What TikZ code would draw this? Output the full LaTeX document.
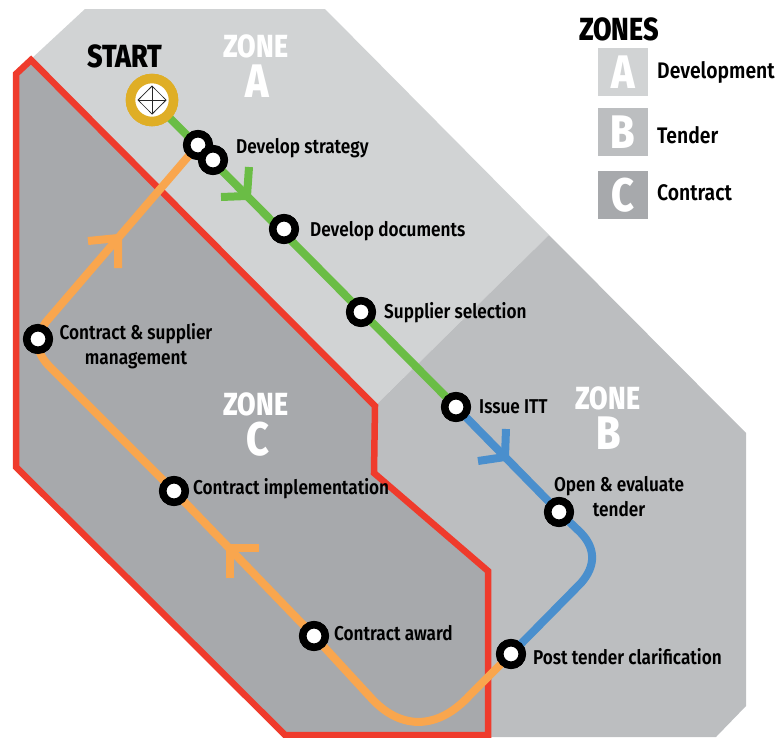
\documentclass[tikz,border=0pt]{standalone}
\usepackage{fontspec}
\setmainfont{Fira Sans}
\newfontfamily\lblfont{Fira Sans SemiBold}[FakeStretch=0.86]
\newfontfamily\headfont{Fira Sans}[FakeStretch=0.84,BoldFont=Fira Sans ExtraBold]
\definecolor{zonea}{HTML}{D1D3D4}
\definecolor{zoneb}{HTML}{BCBEC0}
\definecolor{zonec}{HTML}{A7A9AC}
\definecolor{redline}{HTML}{EF3B2C}
\definecolor{greenline}{HTML}{6ABD45}
\definecolor{blueline}{HTML}{4A8FCD}
\definecolor{orangeline}{HTML}{F9A64E}
\definecolor{goldring}{HTML}{DFAE26}
\tikzset{
  stop/.style={circle,draw=black,line width=7.5pt,fill=white,minimum size=22.5pt,inner sep=0pt},
  startstop/.style={circle,draw=goldring,line width=9.5pt,fill=white,minimum size=43pt,inner sep=0pt},
  lbl/.style={font=\lblfont\fontsize{20}{25}\selectfont,text=black,inner sep=0pt,align=center},
  keylbl/.style={font=\lblfont\fontsize{22.5}{25}\selectfont,text=black,inner sep=0pt},
  zonetxt/.style={font=\headfont\bfseries\fontsize{32}{32}\selectfont,text=white,inner sep=0pt},
  zoneltr/.style={font=\headfont\bfseries\fontsize{47}{47}\selectfont,text=white,inner sep=0pt},
  headtxt/.style={font=\headfont\bfseries\fontsize{32}{32}\selectfont,text=black,inner sep=0pt},
  route/.style={line width=8pt,line join=round},
  barb/.style={line width=8pt,line join=miter},
  swatch/.style={minimum width=50pt,minimum height=48pt,inner sep=0pt},
  swatchtxt/.style={font=\headfont\bfseries\fontsize{47}{47}\selectfont,text=white,inner sep=0pt},
}
\begin{document}
\begin{tikzpicture}[x=1pt,y=-1pt]
\useasboundingbox (0,0) rectangle (782,737);
% zones
\fill[zonea] (30,60) -- (85,9) -- (325,9) -- (549,235) -- (376,405) -- cycle;
\fill[zoneb] (549,235) -- (746,433) -- (746,706) -- (716,737) -- (488,737) -- (488,571) -- (374,473) -- (375,406) -- cycle;
\filldraw[fill=zonec,draw=redline,line width=6.5pt,miter limit=4] (16,74) -- (31,60) -- (375,406) -- (374,473) -- (488,571) -- (488,735) -- (285,735) -- (16,467) -- cycle;
% station positions
\node[startstop] (start) at (152,100) {};
\node[stop] (s1) at (198,145) {};
\node[stop] (s2) at (213,160) {};
\node[stop] (s3) at (284,229) {};
\node[stop] (s4) at (361,312) {};
\node[stop] (s5) at (456,407) {};
\node[stop] (s6) at (559,512) {};
\node[stop] (s7) at (511,654) {};
\node[stop] (s8) at (314,636) {};
\node[stop] (s9) at (174,491) {};
\node[stop] (s10) at (38,339) {};
% routes
\draw[route,orangeline] (s7.center) -- (470,695) .. controls (438,730) and (402,730) .. (373,700) -- (s8.center) -- (s9.center) -- (50,367) .. controls (35,352) and (35,338) .. (46,322) -- (s1.center);
\draw[route,blueline] (s5.center) -- (s6.center) -- (580,532) .. controls (596,548) and (596,566) .. (581,583) -- (s7.center);
\draw[route,greenline] (start.center) -- (s5.center);
% arrowheads
\coordinate (g1) at (247,196); \coordinate (g2) at (249,167); \coordinate (g3) at (221,197);
\draw[barb,greenline] (g2) -- (g1) -- (g3);
\coordinate (b1) at (505,457); \coordinate (b2) at (506,429); \coordinate (b3) at (478,461);
\draw[barb,blueline] (b2) -- (b1) -- (b3);
\coordinate (o1) at (118,238); \coordinate (o2) at (88,241); \coordinate (o3) at (118,268);
\draw[barb,orangeline] (o2) -- (o1) -- (o3);
\coordinate (p1) at (230,548); \coordinate (p2) at (259,548); \coordinate (p3) at (230,578);
\draw[barb,orangeline] (p2) -- (p1) -- (p3);
% stations on top of routes
\node[startstop] at (start) {};
\foreach \n in {s1,s2,s3,s4,s5,s6,s7,s8,s9,s10} \node[stop] at (\n) {};
% start icon
\draw[line width=.7pt,black!85] (138,100) -- (152,86) -- (166,100) -- (152,114) -- cycle;
\draw[line width=.7pt,black!85] (138,100) -- (166,100) (152,86) -- (152,114);
\draw[line width=.7pt,black!85] (141,97) -- (138,100) -- (141,103) (163,97) -- (166,100) -- (163,103) (149,89) -- (152,86) -- (155,89) (149,111) -- (152,114) -- (155,111);
% labels
\node[headtxt] (tstart) at (125,56) {START};
\node[zonetxt] (za) at (256,46) {ZONE};
\node[zoneltr] (zal) at (257,81) {A};
\node[zonetxt] (zb) at (608,398) {ZONE};
\node[zoneltr] (zbl) at (609,433) {B};
\node[zonetxt] (zc) at (256,404) {ZONE};
\node[zoneltr] (zcl) at (258,439) {C};
\node[lbl,anchor=west] (l1) at (236,148) {Develop strategy};
\node[lbl,anchor=west] (l2) at (310,231) {Develop documents};
\node[lbl,anchor=west] (l3) at (384,313) {Supplier selection};
\node[lbl,anchor=west] (l4) at (479,407) {Issue ITT};
\node[lbl] (l5) at (619,497) {Open \& evaluate\\tender};
\node[lbl,anchor=west] (l6) at (533,657) {Post tender clarification};
\node[lbl,anchor=west] (l7) at (334,633) {Contract award};
\node[lbl,anchor=west] (l8) at (193,489) {Contract implementation};
\node[lbl] (l9) at (136,346) {Contract \& supplier\\management};
% legend
\node[headtxt] (lg) at (619,29) {ZONES};
\node[swatch,fill=zonea] (ka) at (623,72) {};
\node[swatch,fill=zoneb] (kb) at (623,132) {};
\node[swatch,fill=zonec] (kc) at (623,195) {};
\node[swatchtxt] at (ka) {A};
\node[swatchtxt] at (kb) {B};
\node[swatchtxt] at (kc) {C};
\node[keylbl,anchor=west] (da) at (657,72) {Development};
\node[keylbl,anchor=west] (db) at (657,135) {Tender};
\node[keylbl,anchor=west] (dc) at (657,193) {Contract};
\end{tikzpicture}
\end{document}
